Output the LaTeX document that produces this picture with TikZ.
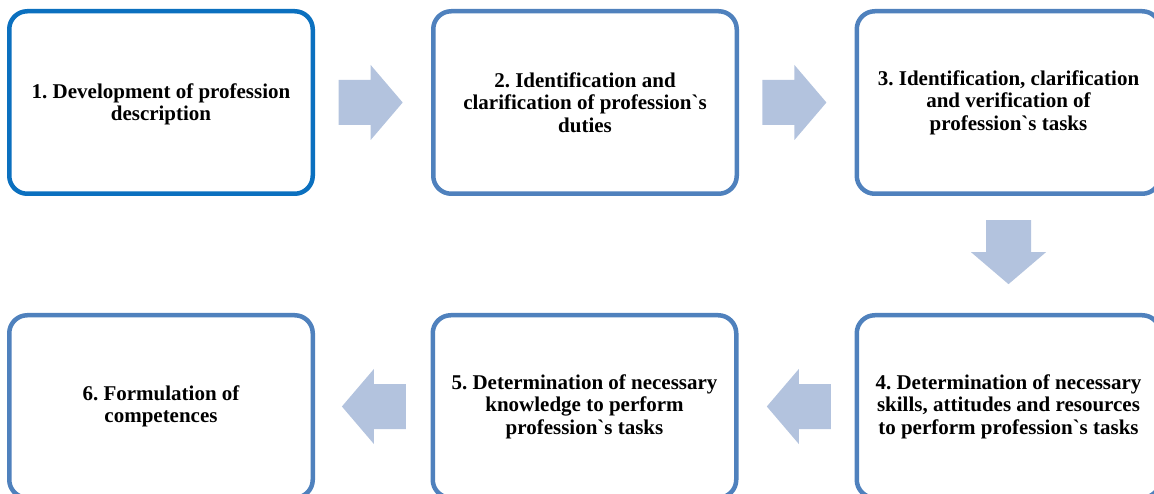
\documentclass[tikz,border=0pt]{standalone}
\usepackage{fontspec}
\newfontfamily\boxfont{Liberation Serif}
\usetikzlibrary{calc}
\definecolor{firstblue}{HTML}{0B70BF}
\definecolor{boxblue}{HTML}{4F81BD}
\definecolor{arrowfill}{HTML}{B3C3DE}
\newcommand\lowered[1]{\raisebox{-2.5pt}[\height][\depth]{\begin{tabular}{@{}c@{}}#1\end{tabular}}}
\tikzset{
  stepbox/.style={draw=boxblue, line width=4.5pt, rounded corners=18pt,
    minimum width=303.5pt, minimum height=182.5pt, align=center, fill=white,
    inner sep=0pt, font=\boxfont\bfseries\fontsize{21}{22.5}\selectfont\frenchspacing},
  firstbox/.style={stepbox, draw=firstblue},
  blockarrow/.pic={\fill[arrowfill] (-32,-22.5) -- (0,-22.5) -- (0,-37.5) -- (32,0)
    -- (0,37.5) -- (0,22.5) -- (-32,22.5) -- cycle;}
}
\begin{document}
\begin{tikzpicture}[x=1pt,y=1pt]
\useasboundingbox (0,0) rectangle (1154,493);
\clip (0,0) rectangle (1154,493);
\node[firstbox] (b1) at (161,390.5) {\lowered{1. Development of profession\\description}};
\node[stepbox] (b2) at (585,390.5) {2. Identification and\\clarification of profession`s\\duties};
\node[stepbox] (b3) at (1008.5,390.5) {3. Identification, clarification\\and verification of\\profession`s tasks};
\node[stepbox] (b4) at (1008.5,86.5) {4. Determination of necessary\\skills, attitudes and resources\\to perform profession`s tasks};
\node[stepbox] (b5) at (584.5,86.5) {5. Determination of necessary\\knowledge to perform\\profession`s tasks};
\node[stepbox] (b6) at (161,86.5) {6. Formulation of\\competences};
\pic at ($(b1.east)!0.48!(b2.west)$) {blockarrow};
\pic at ($(b2.east)!0.48!(b3.west)$) {blockarrow};
\pic[rotate=-90] at ($(b3.south)!0.48!(b4.north)$) {blockarrow};
\pic[rotate=180] at ($(b4.west)!0.48!(b5.east)$) {blockarrow};
\pic[rotate=180] at ($(b5.west)!0.49!(b6.east)$) {blockarrow};
\end{tikzpicture}
\end{document}
